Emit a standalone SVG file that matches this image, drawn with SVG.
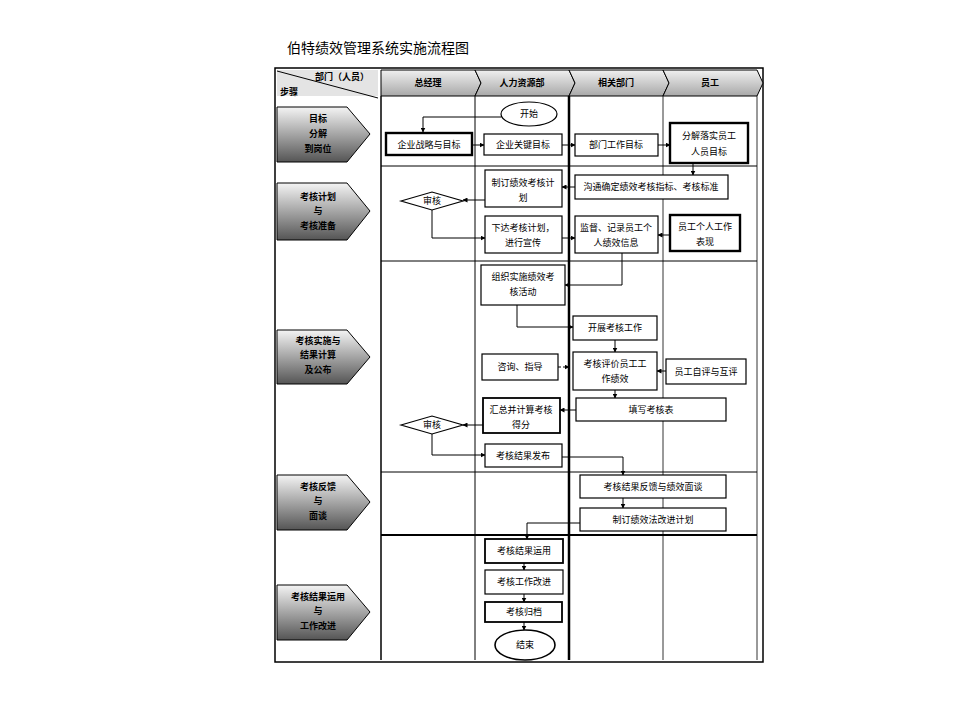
<svg xmlns="http://www.w3.org/2000/svg" width="960" height="720" viewBox="0 0 960 720">
<defs>
<linearGradient id="g1" x1="0" y1="0" x2="0" y2="1"><stop offset="0" stop-color="#f4f4f4"/><stop offset="1" stop-color="#555"/></linearGradient>
<linearGradient id="g2" x1="0" y1="0" x2="0" y2="1"><stop offset="0" stop-color="#f0f0f0"/><stop offset="1" stop-color="#a8a8a8"/></linearGradient>
<marker id="a" viewBox="0 0 10 10" refX="9" refY="5" markerWidth="5" markerHeight="5" orient="auto"><path d="M0,0L10,5L0,10z" fill="#000"/></marker>
<style>
text{font-family:"Noto Sans CJK SC","Liberation Sans",sans-serif;font-size:9px;fill:#000;text-anchor:middle}
.b{fill:#fff;stroke:#000;stroke-width:1.2}
.t{fill:#fff;stroke:#000;stroke-width:2.4}
.c{fill:none;stroke:#000;stroke-width:1;marker-end:url(#a)}
.l{stroke:#000;fill:none}
.s{fill:url(#g1);stroke:#000;stroke-width:1}
.st{font-weight:bold;font-size:9px}
</style>
</defs>
<rect width="960" height="720" fill="#fff"/>
<text x="287" y="53" style="font-size:14px;text-anchor:start">伯特绩效管理系统实施流程图</text>
<g id="frame">
<rect x="275" y="68" width="488" height="594" class="l" stroke-width="1.5"/>
<polygon points="277,70 378,70 378,96 277,96" fill="#e4e4e4"/>
<line x1="277" y1="71" x2="378" y2="98" class="l"/>
<text x="342" y="80" class="st">部门（人员）</text>
<text x="280" y="95" class="st" style="text-anchor:start">步骤</text>
<polygon points="381,70 475,70 481,83 475,96 381,96" fill="url(#g2)" stroke="#000"/>
<polygon points="475,70 569,70 575,83 569,96 475,96 481,83" fill="url(#g2)" stroke="#000"/>
<polygon points="569,70 663,70 669,83 663,96 569,96 575,83" fill="url(#g2)" stroke="#000"/>
<polygon points="663,70 757,70 763,83 757,96 663,96 669,83" fill="url(#g2)" stroke="#000"/>
<text x="428" y="86" class="st">总经理</text>
<text x="522" y="86" class="st">人力资源部</text>
<text x="616" y="86" class="st">相关部门</text>
<text x="710" y="86" class="st">员工</text>
<line x1="381" y1="96" x2="381" y2="660" class="l" stroke-width="1.5"/>
<line x1="475" y1="96" x2="475" y2="660" class="l" stroke-width="1"/>
<line x1="569" y1="96" x2="569" y2="660" class="l" stroke-width="2.5"/>
<line x1="663" y1="96" x2="663" y2="660" class="l" stroke-width="0.8"/>
<line x1="757" y1="96" x2="757" y2="660" class="l" stroke-width="0.8"/>
<line x1="381" y1="166" x2="757" y2="166" class="l"/>
<line x1="381" y1="261" x2="757" y2="261" class="l"/>
<line x1="381" y1="472" x2="757" y2="472" class="l"/>
<line x1="381" y1="535" x2="757" y2="535" class="l" stroke-width="2"/>
</g>
<g id="steps">
<polygon points="277,107 347,107 370,134 347,162 277,162" class="s"/>
<text x="318" y="122" class="st">目标</text><text x="318" y="137" class="st">分解</text><text x="318" y="152" class="st">到岗位</text>
<polygon points="277,183 347,183 370,211 347,240 277,240" class="s"/>
<text x="318" y="200" class="st">考核计划</text><text x="318" y="214" class="st">与</text><text x="318" y="229" class="st">考核准备</text>
<polygon points="277,330 347,330 370,357 347,384 277,384" class="s"/>
<text x="318" y="344" class="st">考核实施与</text><text x="318" y="358" class="st">结果计算</text><text x="318" y="373" class="st">及公布</text>
<polygon points="277,475 347,475 370,502 347,530 277,530" class="s"/>
<text x="318" y="490" class="st">考核反馈</text><text x="318" y="504" class="st">与</text><text x="318" y="519" class="st">面谈</text>
<polygon points="277,585 347,585 370,612 347,640 277,640" class="s"/>
<text x="318" y="600" class="st">考核结果运用</text><text x="318" y="614" class="st">与</text><text x="318" y="629" class="st">工作改进</text>
</g>
<g id="connectors">
<polyline points="501,117 423,117 423,132" class="c"/>
<line x1="472" y1="145" x2="484" y2="145" class="c"/>
<line x1="562" y1="145" x2="575" y2="145" class="c"/>
<line x1="658" y1="145" x2="670" y2="145" class="c"/>
<line x1="693" y1="163" x2="693" y2="175" class="c"/>
<line x1="575" y1="187" x2="562" y2="187" class="c"/>
<line x1="485" y1="200" x2="463" y2="200" class="c"/>
<polyline points="432,210 432,238 485,238" class="c"/>
<line x1="562" y1="238" x2="575" y2="238" class="c"/>
<line x1="670" y1="235" x2="658" y2="235" class="c"/>
<polyline points="622,253 622,285 565,285" class="c"/>
<polyline points="517,305 517,327 573,327" class="c"/>
<line x1="615" y1="340" x2="615" y2="352" class="c"/>
<line x1="558" y1="367" x2="569" y2="367" class="c" stroke-dasharray="3,2"/>
<line x1="666" y1="371" x2="657" y2="371" class="c"/>
<line x1="615" y1="390" x2="615" y2="398" class="c"/>
<line x1="576" y1="410" x2="560" y2="410" class="c"/>
<line x1="483" y1="425" x2="463" y2="425" class="c"/>
<polyline points="432,434 432,455 485,455" class="c"/>
<polyline points="562,457 623,457 623,475" class="c"/>
<line x1="623" y1="498" x2="623" y2="508" class="c"/>
<polyline points="580,523 527,523 527,539" class="c"/>
<line x1="524" y1="563" x2="524" y2="570" class="c"/>
<line x1="524" y1="594" x2="524" y2="602" class="c"/>
<line x1="524" y1="622" x2="524" y2="630" class="c"/>
</g>
<g id="n-start"><ellipse cx="529" cy="114" rx="28" ry="12" class="b"/><text x="529" y="117">开始</text></g>
<g id="n1"><rect x="386" y="133" width="86" height="22" class="t"/><text x="429" y="148">企业战略与目标</text></g>
<g id="n2"><rect x="484" y="134" width="78" height="21" class="b"/><text x="523" y="148">企业关键目标</text></g>
<g id="n3"><rect x="575" y="134" width="83" height="22" class="b"/><text x="616" y="148">部门工作目标</text></g>
<g id="n4"><rect x="670" y="123" width="78" height="40" class="t"/><text x="709" y="139">分解落实员工</text><text x="709" y="155">人员目标</text></g>
<g id="n5"><rect x="485" y="170" width="77" height="37" class="b"/><text x="523" y="186">制订绩效考核计</text><text x="523" y="201">划</text></g>
<g id="n6"><rect x="575" y="175" width="153" height="24" class="b"/><text x="651" y="190">沟通确定绩效考核指标、考核标准</text></g>
<g id="d1"><polygon points="401,201 432,192 463,201 432,210" class="b"/><text x="432" y="204">审核</text></g>
<g id="n7"><rect x="485" y="216" width="77" height="37" class="b"/><text x="523" y="231">下达考核计划，</text><text x="523" y="246">进行宣传</text></g>
<g id="n8"><rect x="575" y="216" width="83" height="37" class="b"/><text x="616" y="231">监督、记录员工个</text><text x="616" y="246">人绩效信息</text></g>
<g id="n9"><rect x="670" y="215" width="70" height="36" class="t"/><text x="705" y="230">员工个人工作</text><text x="705" y="245">表现</text></g>
<g id="n10"><rect x="481" y="265" width="84" height="40" class="b"/><text x="523" y="280">组织实施绩效考</text><text x="523" y="295">核活动</text></g>
<g id="n11"><rect x="573" y="316" width="84" height="24" class="b"/><text x="615" y="331">开展考核工作</text></g>
<g id="n12"><rect x="482" y="354" width="76" height="26" class="b"/><text x="520" y="370">咨询、指导</text></g>
<g id="n13"><rect x="573" y="352" width="84" height="38" class="b"/><text x="615" y="367">考核评价员工工</text><text x="615" y="382">作绩效</text></g>
<g id="n14"><rect x="666" y="359" width="80" height="25" class="b"/><text x="706" y="375">员工自评与互评</text></g>
<g id="n15"><rect x="576" y="398" width="150" height="23" class="b"/><text x="651" y="413">填写考核表</text></g>
<g id="n16"><rect x="483" y="398" width="77" height="35" class="t" style="stroke-width:1.8"/><text x="521" y="413">汇总并计算考核</text><text x="521" y="428">得分</text></g>
<g id="d2"><polygon points="401,425 432,416 463,425 432,434" class="b"/><text x="432" y="428">审核</text></g>
<g id="n17"><rect x="485" y="444" width="77" height="23" class="b"/><text x="523" y="459">考核结果发布</text></g>
<g id="n18"><rect x="580" y="475" width="146" height="23" class="b"/><text x="653" y="490">考核结果反馈与绩效面谈</text></g>
<g id="n19"><rect x="580" y="508" width="146" height="23" class="b"/><text x="653" y="523">制订绩效法改进计划</text></g>
<g id="n20"><rect x="485" y="539" width="78" height="24" class="t" style="stroke-width:1.8"/><text x="524" y="554">考核结果运用</text></g>
<g id="n21"><rect x="485" y="570" width="78" height="24" class="b"/><text x="524" y="585">考核工作改进</text></g>
<g id="n22"><rect x="485" y="602" width="77" height="20" class="t" style="stroke-width:1.8"/><text x="524" y="615">考核归档</text></g>
<g id="n-end"><ellipse cx="525" cy="645" rx="30" ry="15" class="b" style="stroke-width:1.6"/><text x="525" y="648">结束</text></g>
</svg>
